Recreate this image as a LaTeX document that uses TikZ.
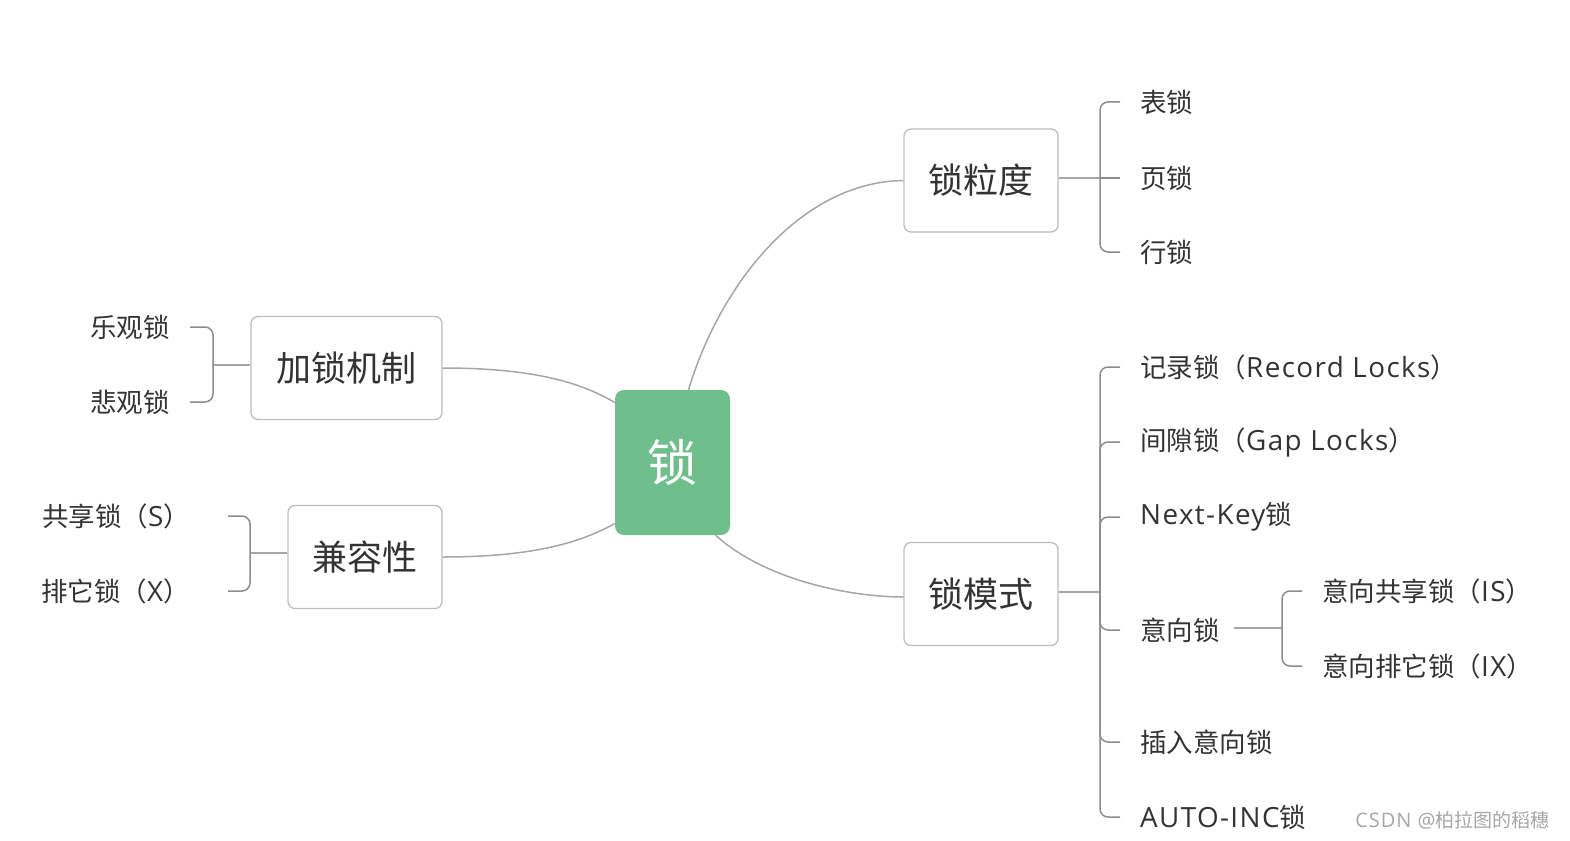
\documentclass[tikz,border=0pt]{standalone}
\usepackage{fontspec}
\setmainfont{Noto Sans CJK SC}
\newfontfamily\lat[Scale=1.05, LetterSpace=5]{Open Sans}
\definecolor{lockgreen}{HTML}{6FBF8D}
\definecolor{boxgray}{HTML}{BDBDBD}
\definecolor{linkgray}{HTML}{A6A6A6}
\definecolor{branchgray}{HTML}{8C8C8C}
\definecolor{txt}{HTML}{333333}

\begin{document}
\begin{tikzpicture}[x=1pt, y=-1pt,
    box/.style={draw=boxgray, line width=1.3pt, rounded corners=7pt, fill=white,
      minimum height=103pt, inner sep=0pt, text=txt, font=\fontsize{35}{40}\selectfont},
    leaf/.style={inner sep=0pt, text=txt, font=\fontsize{26.5}{30}\selectfont},
    link/.style={draw=linkgray, line width=1.5pt},
    branch/.style={draw=branchgray, line width=1.5pt, rounded corners=8pt}]
    \useasboundingbox (0,0) rectangle (1570,840);

    \node[fill=lockgreen, rounded corners=9pt, minimum width=115pt, minimum height=145pt,
      text=white, font=\fontsize{50}{55}\selectfont] (lock) at (672.5,462.5) {锁};
    \node[box, minimum width=154pt] (gran) at (981,180.5) {锁粒度};
    \node[box, minimum width=154pt] (mode) at (981,594)   {锁模式};
    \node[box, minimum width=191pt] (mech) at (346.5,368) {加锁机制};
    \node[box, minimum width=154pt] (comp) at (365,557)   {兼容性};

    % curves from the centre
    \draw[link] ([xshift=16pt]lock.north) .. controls (720,285) and (800,182) .. (gran.west);
    \draw[link] ([xshift=43pt]lock.south) .. controls (765,580) and (850,597) .. ([yshift=-3pt]mode.west);
    \draw[link] ([yshift=60pt]lock.west) .. controls (585,385) and (540,368) .. (mech.east);
    \draw[link] ([yshift=-61pt]lock.west) .. controls (585,540) and (540,557) .. (comp.east);

    % 锁粒度
    \node[leaf, anchor=west] (table) at (1140,102) {表锁};
    \node[leaf, anchor=west] (page)  at (1140,178) {页锁};
    \node[leaf, anchor=west] (row)   at (1140,252) {行锁};
    \coordinate (g1) at (1100,178);
    \draw[link] (gran.east |- g1) -- (g1);
    \draw[branch] ([xshift=-20pt]table.west) -| (g1) |- ([xshift=-20pt]row.west);
    \draw[branch] (g1) -- ([xshift=-20pt]page.west);

    % 锁模式
    \node[leaf, anchor=west] (rec)  at (1140,367) {记录锁（{\lat Record Locks}）};
    \node[leaf, anchor=west] (gap)  at (1140,442) {间隙锁（{\lat Gap Locks}）};
    \node[leaf, anchor=west] (nkey) at (1140,517) {{\lat Next-Key}锁};
    \node[leaf, anchor=west] (intl) at (1140,630) {意向锁};
    \node[leaf, anchor=west] (ins)  at (1140,742) {插入意向锁};
    \node[leaf, anchor=west] (auto) at (1140,817) {{\lat AUTO-INC}锁};
    \coordinate (m1) at (1100,592);
    \draw[link] (mode.east |- m1) -- (m1);
    \draw[branch] ([xshift=-20pt]rec.west) -| (m1) |- ([xshift=-20pt]auto.west);
    \foreach \n in {gap,nkey,intl,ins}
      \draw[branch] ([xshift=-20pt]\n.west) -| (m1);

    % 意向锁
    \node[leaf, anchor=west] (is) at (1322,591) {意向共享锁（{\lat IS}）};
    \node[leaf, anchor=west] (ix) at (1322,666) {意向排它锁（{\lat IX}）};
    \coordinate (i1) at (1282,628);
    \draw[link] ([xshift=14pt]intl.east |- i1) -- (i1);
    \draw[branch] ([xshift=-20pt]is.west) -| (i1) |- ([xshift=-20pt]ix.west);

    % 加锁机制
    \node[leaf, anchor=east] (opt)  at (170,327) {乐观锁};
    \node[leaf, anchor=east] (pess) at (170,402) {悲观锁};
    \coordinate (k1) at (213,365);
    \draw[link] (mech.west |- k1) -- (k1);
    \draw[branch] ([xshift=20pt]opt.east) -| (k1) |- ([xshift=20pt]pess.east);

    % 兼容性
    \node[leaf, anchor=east] (shr) at (190,516) {共享锁（{\lat S}）};
    \node[leaf, anchor=east] (exc) at (190,591) {排它锁（{\lat X}）};
    \coordinate (c1) at (250,553);
    \draw[link] (comp.west |- c1) -- (c1);
    \draw[branch] ([xshift=38pt]shr.east) -| (c1) |- ([xshift=38pt]exc.east);

    \node[text=gray!70, font=\fontsize{19}{21}\selectfont, anchor=east] (mark) at (1553,820) {{\lat CSDN @}柏拉图的稻穗};
\end{tikzpicture}
\end{document}
